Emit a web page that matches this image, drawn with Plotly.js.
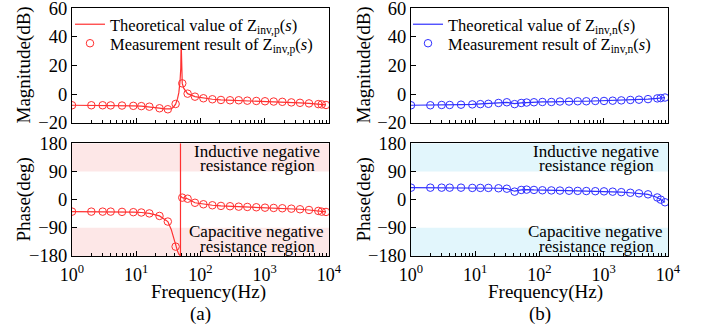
<!DOCTYPE html>
<html>
<head>
<meta charset="utf-8">
<script src="https://cdn.plot.ly/plotly-3.0.1.min.js"></script>
<style>
html,body{margin:0;padding:0;background:#fff;}
#chart{width:702px;height:328px;}
</style>
</head>
<body>
<div id="chart"></div>
<script>
// ---- data ----
var freqs = [1,2,3,4,6,9,12,16,23,31,41,52,63,82,111,153,208,288,393,535,739,1009,1377,1876,2594,3536,4885,6813,7700,8980];

// (a) Z_inv,p measurement
var magPMeas = [-7.8,-7.8,-7.8,-7.9,-8,-8.2,-8.4,-8.8,-9.9,-10.6,-6.9,7.5,0.3,-1.8,-2.9,-3.6,-4.1,-4.3,-4.3,-4.6,-4.8,-5,-5.2,-5.4,-5.8,-6.1,-6.5,-7,-7.2,-7.6];
var phPMeas = [-38.3,-38.3,-38.3,-38.3,-39,-40,-41,-44,-52,-70,-150,6.4,3,-10,-14.7,-17.9,-20,-21,-22.4,-23.3,-24.3,-25.6,-26.5,-27.5,-28.8,-30.7,-33,-36,-38.3,-39.3];

// (a) Z_inv,p theoretical curve
var fMagPTheo = [1,2,3,4,6,9,12,16,20,23,27,31,35,38,41,44,46,48,49.3,50,50.6,51.3,52,55,63,82,111,153,208,288,393,535,739,1009,1377,1876,2594,3536,4885,6813,7700,8980];
var magPTheo = [-7.8,-7.8,-7.8,-7.9,-8,-8.2,-8.4,-8.8,-9.3,-9.8,-10.3,-10.6,-10.4,-9,-7,-3,1,9,18,37,18,10,7.5,4,0.3,-1.8,-2.9,-3.6,-4.1,-4.3,-4.3,-4.6,-4.8,-5,-5.2,-5.4,-5.8,-6.1,-6.5,-7,-7.2,-7.6];
var fPhPTheo = [1,2,3,4,6,9,12,16,23,31,35,38,41,44,46,48.8,48.8,48.9,52,63,82,111,153,208,288,393,535,739,1009,1377,1876,2594,3536,4885,6813,7700,8980];
var phPTheo = [-38.3,-38.3,-38.3,-38.3,-39,-40,-41,-44,-52,-70,-95,-120,-148,-165,-174,-180,180,12,6.4,3,-10,-14.7,-17.9,-20,-21,-22.4,-23.3,-24.3,-25.6,-26.5,-27.5,-28.8,-30.7,-33,-36,-38.3,-39.3];

// (b) Z_inv,n measurement and theoretical
var magNMeas = [-7.8,-7.8,-7.6,-7.6,-7.4,-7.2,-7,-6.8,-6.2,-5.7,-7,-6.2,-5.9,-5.7,-5.5,-5.5,-5.2,-5.2,-5,-5,-4.8,-4.8,-4.6,-4.4,-4.1,-3.9,-3.5,-3,-2.8,-2.4];
var phNMeas = [38.3,38.3,38.3,38.3,38.3,37.5,37.5,37.5,36.4,35,25.6,31,32,31,30,29.5,29,28.5,28,27.5,27,26.5,25.5,24,22,20,17,7,0,-8.4];
var magNTheo = [-7.8,-7.8,-7.6,-7.6,-7.4,-7.2,-7,-6.8,-6.2,-5.8,-6.6,-6.2,-5.9,-5.7,-5.5,-5.5,-5.2,-5.2,-5,-5,-4.8,-4.8,-4.6,-4.4,-4.1,-3.9,-3.5,-3,-2.8,-2.4];
var phNTheo = [38.3,38.3,38.3,38.3,38.3,37.5,37.5,37.5,36.4,35,27,31,32,31,30,29.5,29,28.5,28,27.5,27,26.5,25.5,24,22,20,17,7,0,-8.4];

var xTickVals = [1,10,100,1000,10000];
var xTickText = ['10<sup>0</sup>','10<sup>1</sup>','10<sup>2</sup>','10<sup>3</sup>','10<sup>4</sup>'];
var magTickVals = [-20,0,20,40,60];
var magTickText = ['\u221220','0','20','40','60'];
var phTickVals = [-180,-90,0,90,180];
var phTickText = ['\u2212180','\u221290','0','90','180'];

// ---- styling ----
var FONT = 'Liberation Serif, Times New Roman, serif';
var RED = '#ff3030', BLUE = '#3030ff';
var PINK = '#fde7e7', CYAN = '#e2f6fc';
var W = 702, H = 328;
function px(x){return x/W;}
function py(y){return 1-y/H;}

var minorVals = [];
for (var d=0; d<4; d++){ for (var k=2;k<10;k++){ minorVals.push(k*Math.pow(10,d)); } }

function xax(dom, anchor, labels){
  return {domain:dom, anchor:anchor, type:'log', range:[0,4], showline:true, mirror:true,
    linecolor:'#000', linewidth:1, ticks:'inside', ticklen:5, tickcolor:'#000',
    tickmode:'array', tickvals:xTickVals, ticktext:xTickText, showticklabels:labels,
    ticklabelstandoff:2, ticklabeloverflow:'allow',
    showgrid:false, zeroline:false, tickfont:{family:FONT,size:18,color:'#000'},
    minor:{ticks:'inside', ticklen:3, tickcolor:'#000', tickmode:'array', tickvals:minorVals, showgrid:false}};
}
function yax(dom, anchor, range, tv, tt){
  return {domain:dom, anchor:anchor, range:range, showline:true, mirror:true,
    linecolor:'#000', linewidth:1, ticks:'inside', ticklen:5, tickcolor:'#000',
    tickmode:'array', tickvals:tv, ticktext:tt, showgrid:false, zeroline:false,
    ticklabeloverflow:'allow',
    tickfont:{family:FONT,size:18.5,color:'#000'}};
}

var xL = [px(72), px(329)], xR = [px(411), px(668)];
var yMag = [py(122.7), py(8.3)], yPh = [py(256), py(143.3)];

var pName1 = 'Theoretical value of Z<sub>inv,p</sub>(<i>s</i>)';
var pName2 = 'Measurement result of Z<sub>inv,p</sub>(<i>s</i>)';
var nName1 = 'Theoretical value of Z<sub>inv,n</sub>(<i>s</i>)';
var nName2 = 'Measurement result of Z<sub>inv,n</sub>(<i>s</i>)';

var mk = function(c){return {symbol:'circle-open', size:7.5, color:c, line:{width:1,color:c}};};

var traces = [
  {x:fMagPTheo, y:magPTheo, xaxis:'x', yaxis:'y', mode:'lines', line:{color:RED,width:1.2}, name:pName1, legend:'legend'},
  {x:freqs, y:magPMeas, xaxis:'x', yaxis:'y', mode:'markers', marker:mk(RED), name:pName2, legend:'legend2'},
  {x:fPhPTheo, y:phPTheo, xaxis:'x2', yaxis:'y2', mode:'lines', line:{color:RED,width:1.2}, showlegend:false},
  {x:freqs, y:phPMeas, xaxis:'x2', yaxis:'y2', mode:'markers', marker:mk(RED), showlegend:false},
  {x:freqs, y:magNTheo, xaxis:'x3', yaxis:'y3', mode:'lines', line:{color:BLUE,width:1.2}, name:nName1, legend:'legend3'},
  {x:freqs, y:magNMeas, xaxis:'x3', yaxis:'y3', mode:'markers', marker:mk(BLUE), name:nName2, legend:'legend4'},
  {x:freqs, y:phNTheo, xaxis:'x4', yaxis:'y4', mode:'lines', line:{color:BLUE,width:1.2}, showlegend:false},
  {x:freqs, y:phNMeas, xaxis:'x4', yaxis:'y4', mode:'markers', marker:mk(BLUE), showlegend:false}
];

function band(xref, yref, y0, y1, c){
  return {type:'rect', xref:xref+' domain', yref:yref, x0:0, x1:1, y0:y0, y1:y1, fillcolor:c, line:{width:0}, layer:'below'};
}
function ann(text, x, y, size, angle){
  return {text:text, xref:'paper', yref:'paper', x:px(x), y:py(y), xanchor:'center', yanchor:'middle',
    showarrow:false, textangle:angle||0, font:{family:FONT, size:size, color:'#000'}};
}
function leg(x, y){
  return {x:px(x), y:py(y), xanchor:'left', yanchor:'top', bgcolor:'rgba(0,0,0,0)', borderwidth:0,
    font:{family:FONT,size:16.5,color:'#000'}, itemwidth:30, tracegroupgap:0};
}

var layout = {
  width:W, height:H, margin:{l:0,r:0,t:0,b:0}, paper_bgcolor:'#fff', plot_bgcolor:'rgba(0,0,0,0)',
  font:{family:FONT, color:'#000'},
  xaxis: xax(xL, 'y', false), yaxis: yax(yMag, 'x', [-20,60], magTickVals, magTickText),
  xaxis2: xax(xL, 'y2', true), yaxis2: yax(yPh, 'x2', [-180,180], phTickVals, phTickText),
  xaxis3: xax(xR, 'y3', false), yaxis3: yax(yMag, 'x3', [-20,60], magTickVals, magTickText),
  xaxis4: xax(xR, 'y4', true), yaxis4: yax(yPh, 'x4', [-180,180], phTickVals, phTickText),
  legend: leg(70, 7), legend2: leg(70, 26), legend3: leg(408, 7), legend4: leg(408, 26),
  shapes:[
    band('x2','y2',90,180,PINK), band('x2','y2',-180,-90,PINK),
    band('x4','y4',90,180,CYAN), band('x4','y4',-180,-90,CYAN)
  ],
  annotations:[
    ann('Magnitude(dB)', 23, 65.5, 19, -90),
    ann('Phase(deg)', 23, 199.5, 19, -90),
    ann('Magnitude(dB)', 363, 65.5, 19, -90),
    ann('Phase(deg)', 363, 199.5, 19, -90),
    ann('Frequency(Hz)', 208, 291.5, 19),
    ann('Frequency(Hz)', 545, 291.5, 19),
    ann('(a)', 200, 313.5, 19),
    ann('(b)', 540, 313.5, 19),
    ann('Inductive negative', 257, 151.7, 17),
    ann('resistance region', 257.5, 165, 17),
    ann('Capacitive negative', 256, 231.7, 17),
    ann('resistance region', 257.5, 246, 17),
    ann('Inductive negative', 596, 151.7, 17),
    ann('resistance region', 596.5, 165, 17),
    ann('Capacitive negative', 595, 231.7, 17),
    ann('resistance region', 596.5, 246, 17)
  ]
};

Plotly.newPlot('chart', traces, layout, {staticPlot:true, displayModeBar:false});
</script>
</body>
</html>
